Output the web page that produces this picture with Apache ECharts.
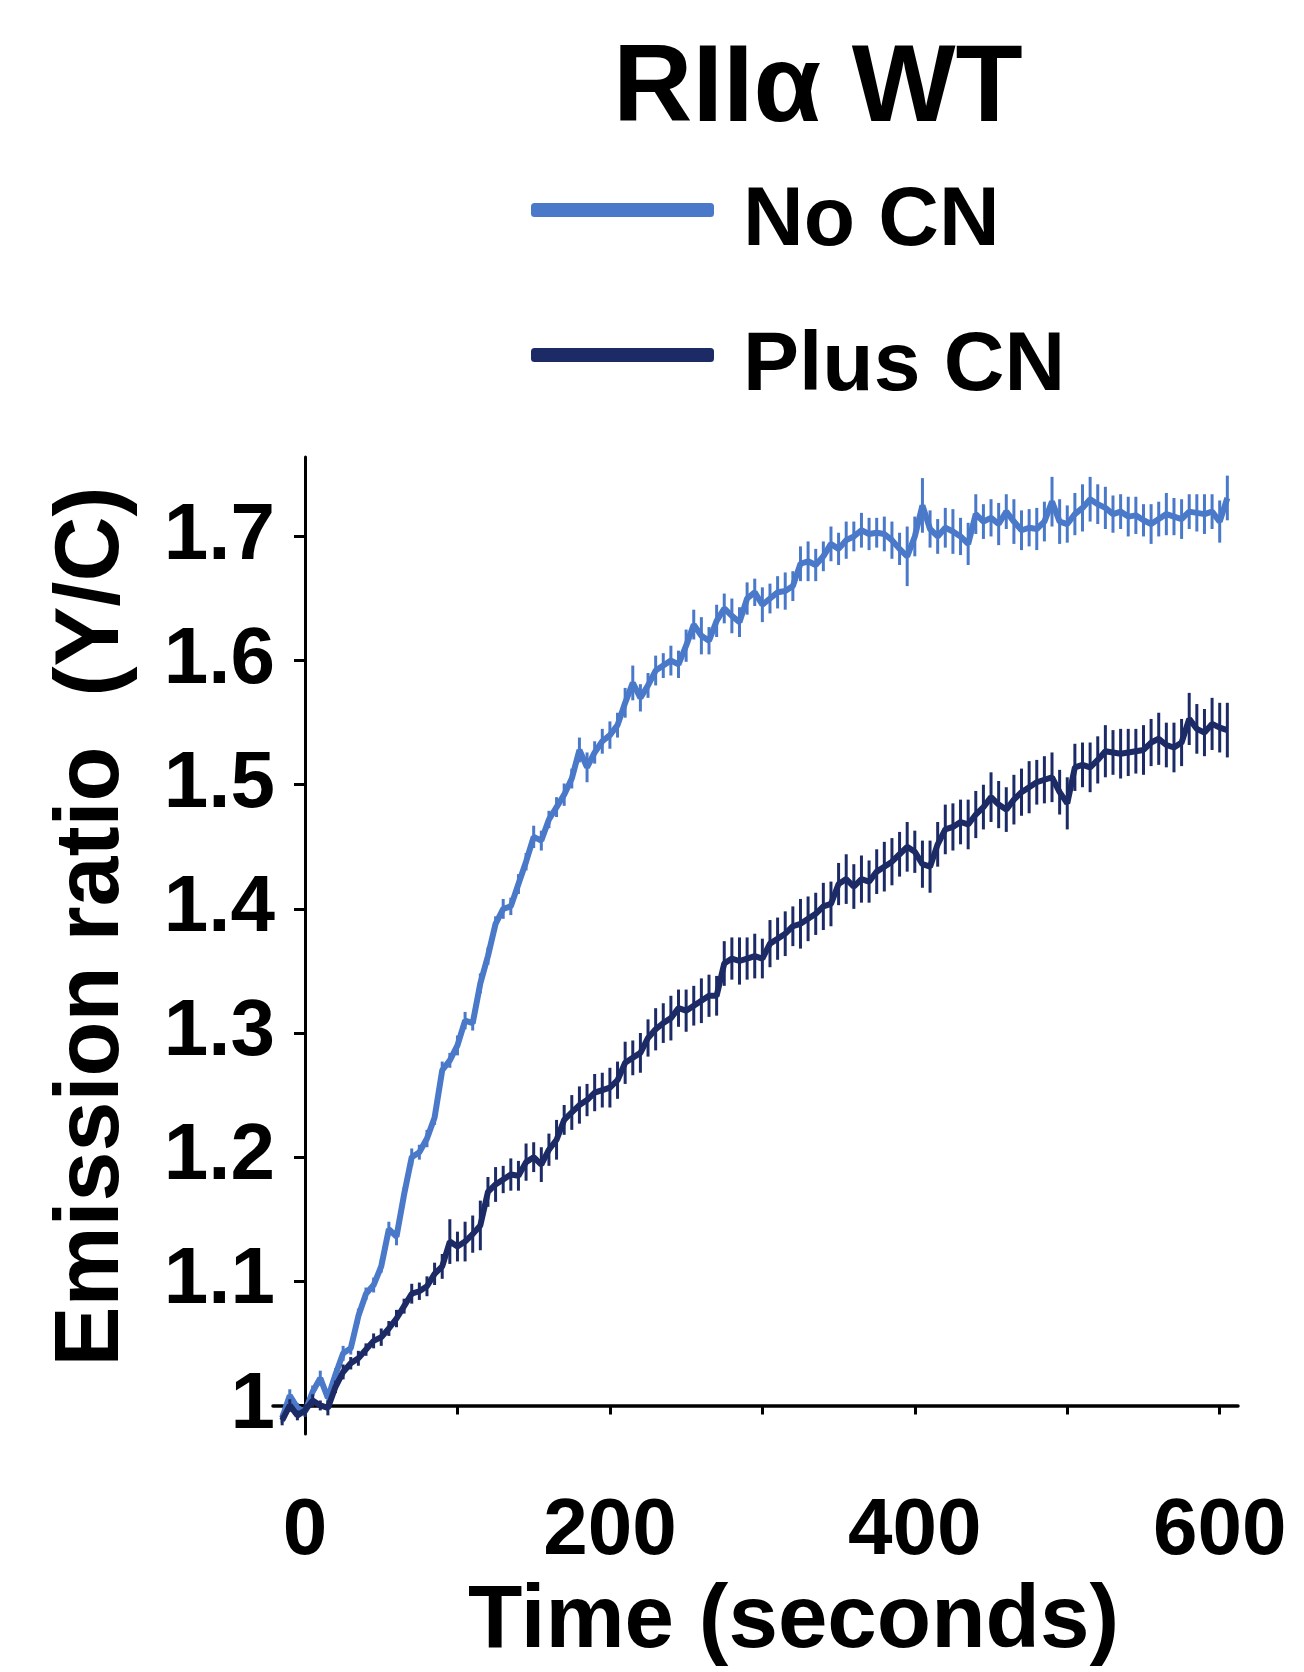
<!DOCTYPE html>
<html>
<head>
<meta charset="utf-8">
<script src="https://cdn.jsdelivr.net/npm/echarts@6/dist/echarts.min.js"></script>
<style>
    html, body { margin: 0; padding: 0; background: #fff; }
    #chart { width: 1304px; height: 1672px; }
</style>
</head>
<body>
<div id="chart"></div>
<script>
(function() {
    'use strict';

    // time points (seconds)
    var times = [-15,-10,-5,0,5,10,15,20,25,30,35,40,45,50,55,60,65,70,75,80,85,90,95,100,105,110,115,120,125,130,
        135,140,145,150,155,160,165,170,175,180,185,190,195,200,205,210,215,220,225,230,235,240,245,250,255,260,265,270,275,280,
        285,290,295,300,305,310,315,320,325,330,335,340,345,350,355,360,365,370,375,380,385,390,395,400,405,410,415,420,425,430,
        435,440,445,450,455,460,465,470,475,480,485,490,495,500,505,510,515,520,525,530,535,540,545,550,555,560,565,570,575,580,
        585,590,595,600,605];

    var noCn = [0.990,1.008,0.998,0.995,1.011,1.022,1.006,1.025,1.042,1.046,
        1.072,1.090,1.097,1.112,1.142,1.136,1.170,1.200,1.204,1.215,
        1.232,1.270,1.278,1.290,1.310,1.308,1.340,1.362,1.388,1.400,
        1.402,1.420,1.438,1.458,1.455,1.472,1.482,1.492,1.505,1.528,
        1.514,1.526,1.535,1.540,1.548,1.566,1.582,1.570,1.580,1.592,
        1.596,1.600,1.597,1.612,1.629,1.620,1.616,1.632,1.642,1.636,
        1.631,1.650,1.655,1.645,1.650,1.655,1.656,1.660,1.678,1.680,
        1.677,1.684,1.694,1.690,1.697,1.700,1.705,1.702,1.703,1.702,
        1.697,1.690,1.684,1.700,1.725,1.706,1.700,1.707,1.704,1.700,
        1.694,1.718,1.712,1.715,1.710,1.720,1.712,1.705,1.707,1.706,
        1.712,1.728,1.712,1.710,1.718,1.723,1.730,1.726,1.723,1.718,
        1.720,1.716,1.717,1.713,1.710,1.714,1.718,1.716,1.714,1.720,
        1.719,1.718,1.720,1.712,1.731];

    var plusCn = [0.988,1.000,0.992,0.996,1.004,1.000,0.998,1.015,1.027,1.034,
        1.038,1.045,1.052,1.055,1.062,1.070,1.080,1.090,1.092,1.096,
        1.106,1.112,1.132,1.128,1.132,1.138,1.145,1.172,1.178,1.182,
        1.186,1.185,1.196,1.200,1.194,1.206,1.214,1.230,1.236,1.242,
        1.246,1.252,1.254,1.256,1.262,1.276,1.280,1.284,1.296,1.303,
        1.308,1.312,1.320,1.318,1.322,1.326,1.330,1.330,1.356,1.360,
        1.358,1.360,1.362,1.360,1.372,1.376,1.380,1.386,1.388,1.392,
        1.396,1.402,1.404,1.420,1.424,1.418,1.424,1.422,1.430,1.434,
        1.438,1.444,1.450,1.446,1.436,1.434,1.452,1.464,1.466,1.470,
        1.468,1.476,1.482,1.490,1.484,1.480,1.488,1.494,1.498,1.502,
        1.504,1.506,1.494,1.485,1.514,1.516,1.514,1.520,1.527,1.526,
        1.525,1.526,1.527,1.528,1.534,1.537,1.532,1.530,1.534,1.553,
        1.545,1.542,1.549,1.546,1.544];

    // error bar half-lengths
    var noCnErr = [0.004,0.005,0.004,0.004,0.005,0.006,0.005,0.005,0.006,0.005,
        0.006,0.005,0.006,0.005,0.006,0.007,0.006,0.007,0.006,0.007,
        0.006,0.007,0.006,0.008,0.007,0.006,0.008,0.007,0.006,0.008,
        0.007,0.008,0.007,0.009,0.008,0.007,0.008,0.009,0.008,0.010,
        0.012,0.009,0.010,0.011,0.010,0.012,0.014,0.011,0.010,0.012,
        0.010,0.012,0.011,0.013,0.012,0.015,0.011,0.013,0.012,0.014,
        0.012,0.013,0.011,0.014,0.012,0.013,0.015,0.012,0.014,0.016,
        0.013,0.012,0.014,0.013,0.015,0.012,0.014,0.013,0.012,0.014,
        0.015,0.013,0.024,0.016,0.022,0.015,0.014,0.016,0.018,0.015,
        0.017,0.016,0.014,0.015,0.017,0.014,0.018,0.016,0.015,0.017,
        0.016,0.020,0.018,0.015,0.017,0.019,0.018,0.016,0.017,0.015,
        0.014,0.016,0.015,0.013,0.016,0.014,0.017,0.015,0.016,0.014,
        0.015,0.016,0.014,0.017,0.018];

    var plusCnErr = [0.004,0.005,0.004,0.005,0.005,0.004,0.006,0.005,0.006,0.005,
        0.006,0.005,0.006,0.007,0.006,0.007,0.006,0.008,0.007,0.008,
        0.009,0.010,0.018,0.012,0.016,0.015,0.020,0.012,0.014,0.011,
        0.013,0.012,0.015,0.012,0.014,0.013,0.016,0.012,0.014,0.015,
        0.013,0.015,0.014,0.016,0.015,0.017,0.014,0.016,0.015,0.017,
        0.016,0.018,0.015,0.017,0.016,0.018,0.017,0.016,0.018,0.017,
        0.019,0.017,0.018,0.016,0.019,0.017,0.018,0.016,0.020,0.018,
        0.017,0.019,0.018,0.017,0.020,0.018,0.019,0.017,0.018,0.020,
        0.019,0.018,0.020,0.017,0.019,0.021,0.018,0.020,0.019,0.018,
        0.020,0.019,0.018,0.020,0.019,0.018,0.020,0.019,0.021,0.018,
        0.019,0.020,0.018,0.021,0.019,0.018,0.020,0.019,0.021,0.018,
        0.020,0.019,0.018,0.020,0.019,0.021,0.018,0.020,0.019,0.021,
        0.020,0.019,0.021,0.020,0.022];

    var xTicks = [0, 100, 200, 300, 400, 500, 600];
    var xLabels = [0, 200, 400, 600];
    var yTicks = [1, 1.1, 1.2, 1.3, 1.4, 1.5, 1.6, 1.7];

    var FONT = '"Liberation Sans", Arial, Helvetica, sans-serif';
    var LIGHT = '#4a79c9';
    var DARK = '#1c2b66';

    function linePoints(vals) {
        return times.map(function(t, i) { return [t, vals[i]]; });
    }
    function errPoints(vals, errs) {
        return times.map(function(t, i) { return [t, vals[i] - errs[i], vals[i] + errs[i]]; });
    }
    function errRenderer(color) {
        return function(params, api) {
            var lo = api.coord([api.value(0), api.value(1)]);
            var hi = api.coord([api.value(0), api.value(2)]);
            return {
                type: 'line',
                shape: { x1: lo[0], y1: lo[1], x2: hi[0], y2: hi[1] },
                style: { stroke: color, lineWidth: 3 }
            };
        };
    }

    var chart = echarts.init(document.getElementById('chart'));

    var option = {
        animation: false,
        backgroundColor: '#fff',
        title: {
            text: 'RIIα WT',
            left: 613,
            top: 36,
            padding: 0,
            textStyle: { fontFamily: FONT, fontSize: 110, fontWeight: 'bold', color: '#000' }
        },
        legend: {
            data: ['No CN', 'Plus CN'],
            orient: 'vertical',
            left: 531,
            top: 180,
            padding: 0,
            itemWidth: 183,
            itemHeight: 14,
            itemGap: 61,
            icon: 'roundRect',
            selectedMode: false,
            formatter: '{t|{name}}',
            textStyle: {
                fontFamily: FONT, fontSize: 84, fontWeight: 'bold', color: '#000',
                rich: {
                    t: { fontFamily: FONT, fontSize: 84, fontWeight: 'bold', color: '#000', padding: [24, 0, 0, 24] }
                }
            }
        },
        grid: { left: 273, right: 66, top: 457, bottom: 210, containLabel: false },
        xAxis: {
            type: 'value',
            min: -21,
            max: 612,
            name: 'Time (seconds)',
            nameLocation: 'middle',
            nameGap: 144,
            nameTextStyle: { fontFamily: FONT, fontSize: 89, fontWeight: 'bold', color: '#000', padding: [0, 0, 0, 76] },
            axisLine: { onZero: true, onZeroAxisIndex: 1, lineStyle: { color: '#000', width: 3.5 } },
            axisTick: { customValues: xTicks, length: 9, lineStyle: { color: '#000', width: 3 } },
            axisLabel: {
                customValues: xLabels, margin: 58,
                fontFamily: FONT, fontSize: 80, fontWeight: 'bold', color: '#000'
            },
            splitLine: { show: false }
        },
        yAxis: [{
            type: 'value',
            min: 0.977,
            max: 1.764,
            name: 'Emission ratio  (Y/C)',
            nameLocation: 'middle',
            nameRotate: 90,
            nameGap: 135,
            nameTextStyle: { fontFamily: FONT, fontSize: 90, fontWeight: 'bold', color: '#000', padding: [0, 0, 0, 38] },
            axisLine: { onZero: true, lineStyle: { color: '#000', width: 3 } },
            axisTick: { customValues: yTicks, length: 11, lineStyle: { color: '#000', width: 3 } },
            axisLabel: {
                customValues: yTicks, margin: -2,
                fontFamily: FONT, fontSize: 80, fontWeight: 'bold', color: '#000',
                formatter: function(v) { return String(Math.round(v * 10) / 10); }
            },
            splitLine: { show: false }
        }, {
            // helper axis: its zero sits at ratio 1.0 so the time axis crosses there
            type: 'value',
            min: -0.023,
            max: 0.764,
            show: false
        }],
        series: [{
            name: 'No CN err',
            type: 'custom',
            renderItem: errRenderer(LIGHT),
            encode: { x: 0, y: [1, 2] },
            data: errPoints(noCn, noCnErr),
            z: 2
        }, {
            name: 'No CN',
            type: 'line',
            data: linePoints(noCn),
            showSymbol: false,
            symbol: 'none',
            color: LIGHT,
            lineStyle: { color: LIGHT, width: 6 },
            z: 3
        }, {
            name: 'Plus CN err',
            type: 'custom',
            renderItem: errRenderer(DARK),
            encode: { x: 0, y: [1, 2] },
            data: errPoints(plusCn, plusCnErr),
            z: 4
        }, {
            name: 'Plus CN',
            type: 'line',
            data: linePoints(plusCn),
            showSymbol: false,
            symbol: 'none',
            color: DARK,
            lineStyle: { color: DARK, width: 6 },
            z: 5
        }]
    };

    chart.setOption(option);
})();
</script>
</body>
</html>
